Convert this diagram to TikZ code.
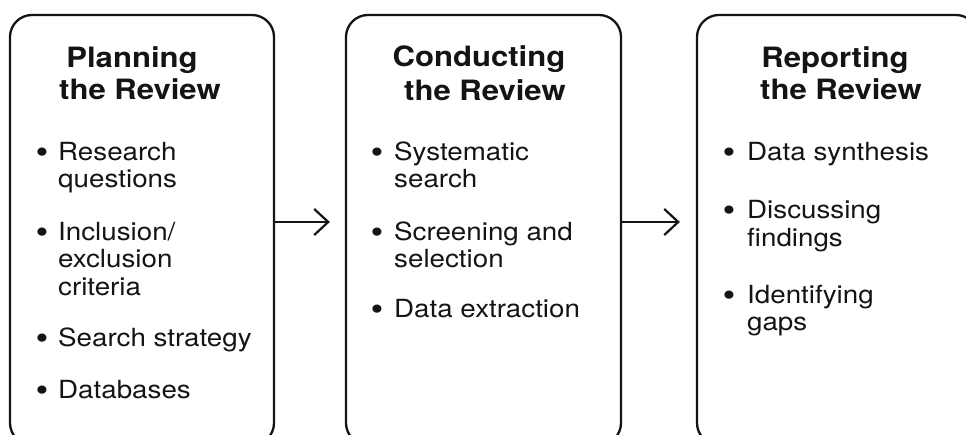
\documentclass[tikz,border=0pt]{standalone}
\usepackage{fontspec}
\setmainfont{TeX Gyre Heros}[FakeStretch=1.11]
\usetikzlibrary{arrows.meta}
\definecolor{ink}{HTML}{141414}
\tikzset{
  box/.style={draw=ink, line width=2.3pt, rounded corners=22pt, inner sep=0pt},
  conn/.style={draw=ink, line width=2.2pt, -{Straight Barb[length=14pt,width=26pt,line width=2.2pt]}},
  ttl/.style={anchor=base, inner sep=0pt, text=ink, font=\fontsize{28}{31}\selectfont\bfseries},
  itm/.style={anchor=base west, inner sep=0pt, text=ink, font=\fontsize{25}{28}\selectfont},
  bul/.style={anchor=base, inner sep=0pt, text=ink, yshift=-2.5pt, font=\fontsize{33}{33}\selectfont}
}
\begin{document}
\begin{tikzpicture}[x=1pt,y=1pt]
\useasboundingbox (0,0) rectangle (966,435);
\clip (0,0) rectangle (966,435);
% boxes
\node[box, minimum width=264pt, minimum height=430pt] (b1) at (142,205) {};
\node[box, minimum width=275pt, minimum height=430pt] (b2) at (483.5,205) {};
\node[box, minimum width=281pt, minimum height=430pt] (b3) at (837.5,205) {};
% connectors
\draw[conn, shorten >=15pt] ([yshift=8pt]b1.east) -- ([yshift=8pt]b2.west);
\draw[conn, shorten >=16pt] ([yshift=8pt]b2.east) -- ([yshift=8pt]b3.west);
% box 1
\node[ttl] (t1a) at (132,367) {Planning};
\node[ttl] (t1b) at (140,335) {the Review};
\node[bul] (p1) at (42,274) {\textbullet};
\node[itm] (i1a) at (58,274) {Research};
\node[itm] (i1b) at (58,247) {questions};
\node[bul] (p2) at (42,194) {\textbullet};
\node[itm] (i2a) at (58,194) {Inclusion/};
\node[itm] (i2b) at (58,167) {exclusion};
\node[itm] (i2c) at (58,139) {criteria};
\node[bul] (p3) at (42,88) {\textbullet};
\node[itm] (i3a) at (58,88) {Search strategy};
\node[bul] (p4) at (42,36) {\textbullet};
\node[itm] (i4a) at (58,36) {Databases};
% box 2
\node[ttl] (t2a) at (479,368) {Conducting};
\node[ttl] (t2b) at (485,334) {the Review};
\node[bul] (q1) at (377,274) {\textbullet};
\node[itm] (j1a) at (394,274) {Systematic};
\node[itm] (j1b) at (394,247) {search};
\node[bul] (q2) at (377,194) {\textbullet};
\node[itm] (j2a) at (394,194) {Screening and};
\node[itm] (j2b) at (394,167) {selection};
\node[bul] (q3) at (377,117) {\textbullet};
\node[itm] (j3a) at (394,117) {Data extraction};
% box 3
\node[ttl] (t3a) at (835,367) {Reporting};
\node[ttl] (t3b) at (841,335) {the Review};
\node[bul] (r1) at (729,274) {\textbullet};
\node[itm] (k1a) at (747,274) {Data synthesis};
\node[bul] (r2) at (729,216) {\textbullet};
\node[itm] (k2a) at (747,216) {Discussing};
\node[itm] (k2b) at (747,188) {findings};
\node[bul] (r3) at (729,131) {\textbullet};
\node[itm] (k3a) at (747,131) {Identifying};
\node[itm] (k3b) at (747,104) {gaps};
\end{tikzpicture}
\end{document}
